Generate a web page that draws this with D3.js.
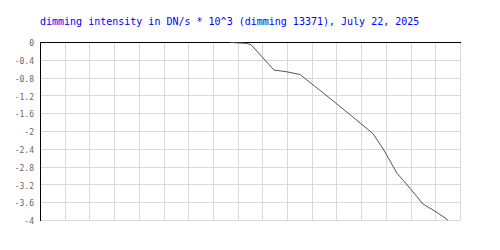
<!DOCTYPE html>
<html>
<head>
<meta charset="utf-8">
<script src="https://cdn.jsdelivr.net/npm/d3@7"></script>
<style>
  body { margin: 0; background: #fff; }
  svg { display: block; }
</style>
</head>
<body>
<div id="chart"></div>
<script>
var title = "dimming intensity in DN/s * 10^3 (dimming 13371), July 22, 2025";

// time in hours (grid column units), dimming value
var hours = [7.69, 8.34, 8.54, 9.47, 10.0, 10.52, 11.5, 12.5, 13.48, 13.92, 14.45, 14.98, 15.5, 16.07, 16.51];
var dimming = [-0.01, -0.03, -0.06, -0.63, -0.67, -0.73, -1.16, -1.61, -2.06, -2.43, -2.95, -3.29, -3.64, -3.83, -4.0];
var yTicks = [0, -0.4, -0.8, -1.2, -1.6, -2, -2.4, -2.8, -3.2, -3.6, -4];

function drawChart(selector) {
    var margin = {top: 42, left: 40, right: 40, bottom: 30},
        width = 500, height = 250;

    d3.select(selector).html(null);

    var svg = d3.select(selector)
        .append("svg")
        .attr("width", width)
        .attr("height", height);

    var x = d3.scaleLinear()
        .domain([0, 17])
        .range([margin.left, width - margin.right]);

    var y = d3.scaleLinear()
        .domain([0, -4])
        .range([margin.top, height - margin.bottom]);

    // vertical grid
    svg.append("g")
        .selectAll("line")
        .data(d3.range(1, 18))
        .enter().append("line")
        .attr("x1", function(d){ return Math.round(x(d)) + 0.5; })
        .attr("x2", function(d){ return Math.round(x(d)) + 0.5; })
        .attr("y1", y(0))
        .attr("y2", y(-4) + 0.5)
        .attr("stroke", "#d9d9d9")
        .attr("stroke-width", 1);

    // horizontal grid
    svg.append("g")
        .selectAll("line")
        .data(yTicks.slice(1))
        .enter().append("line")
        .attr("x1", x(0))
        .attr("x2", x(17) + 0.5)
        .attr("y1", function(d){ return Math.round(y(d)) + 0.5; })
        .attr("y2", function(d){ return Math.round(y(d)) + 0.5; })
        .attr("stroke", "#d9d9d9")
        .attr("stroke-width", 1);

    // axis labels
    var yAxis = d3.axisLeft(y)
        .tickValues(yTicks)
        .tickSize(0)
        .tickPadding(6)
        .tickFormat(d3.format("~g"));

    var gy = svg.append("g")
        .attr("transform", "translate(" + x(0) + ",0)")
        .call(yAxis);
    gy.select(".domain").remove();
    gy.selectAll("text")
        .attr("fill", "#666")
        .attr("font-family", "'DejaVu Sans Mono', monospace")
        .attr("font-size", "8px")
        .attr("dy", "0.45em")
        .text(function(d){ return d3.format("~g")(d).replace("\u2212", "-"); });

    // axis lines
    svg.append("line")
        .attr("x1", x(0)).attr("x2", x(17) + 1)
        .attr("y1", Math.round(y(0)) + 0.5).attr("y2", Math.round(y(0)) + 0.5)
        .attr("stroke", "#000");
    svg.append("line")
        .attr("x1", Math.round(x(0)) + 0.5).attr("x2", Math.round(x(0)) + 0.5)
        .attr("y1", y(0)).attr("y2", y(-4) + 1)
        .attr("stroke", "#000");

    // data line
    var pts = hours.map(function(h, i){ return [h, dimming[i]]; });
    var line = d3.line()
        .x(function(d){ return x(d[0]); })
        .y(function(d){ return y(d[1]); });

    svg.append("path")
        .datum(pts)
        .attr("d", line)
        .attr("fill", "none")
        .attr("stroke", "#555")
        .attr("stroke-width", 1);

    svg.append("text")
        .attr("x", 40)
        .attr("y", 25)
        .attr("fill", "#0000ff")
        .attr("font-family", "'DejaVu Sans Mono', monospace")
        .attr("font-size", "10px")
        .text(title);
}

drawChart("#chart");
</script>
</body>
</html>
